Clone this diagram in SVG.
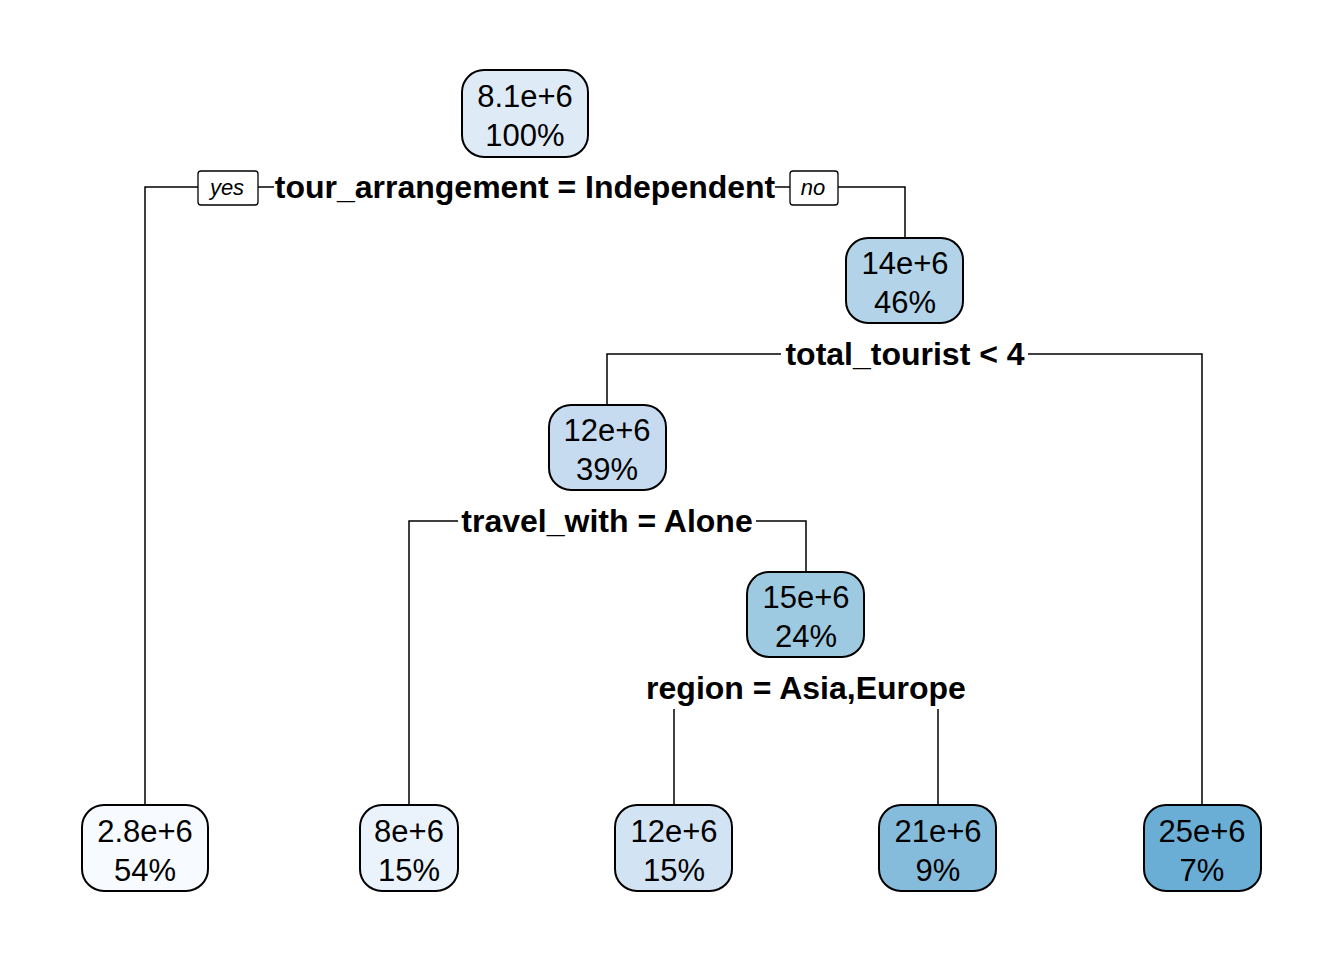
<svg xmlns="http://www.w3.org/2000/svg" width="1344" height="960" viewBox="0 0 1344 960">
<style>
.box{stroke:#000;stroke-width:2}
.t{font-family:"Liberation Sans",Arial,sans-serif;font-size:31px;text-anchor:middle;fill:#000}
.s{font-family:"Liberation Sans",Arial,sans-serif;font-size:32px;font-weight:bold;text-anchor:middle;fill:#000}
.yn{font-family:"Liberation Sans",Arial,sans-serif;font-size:22px;font-style:italic;text-anchor:middle;fill:#000}
.lbox{fill:#fff;stroke:#000;stroke-width:1.3}
.c{fill:none;stroke:#000;stroke-width:1.5}
</style>
<rect width="1344" height="960" fill="#fff"/>
<g id="connectors">
<polyline class="c" points="198,187 145,187 145,805"/>
<line class="c" x1="258" y1="187" x2="274" y2="187"/>
<line class="c" x1="775" y1="187" x2="790" y2="187"/>
<polyline class="c" points="838,187 905,187 905,238"/>
<polyline class="c" points="781,354 607,354 607,405"/>
<polyline class="c" points="1028,354 1202,354 1202,805"/>
<polyline class="c" points="458,521 409,521 409,805"/>
<polyline class="c" points="756,521 806,521 806,572"/>
<line class="c" x1="674" y1="709" x2="674" y2="805"/>
<line class="c" x1="938" y1="709" x2="938" y2="805"/>
</g>
<g id="split1">
<text class="s" x="525" y="198">tour_arrangement = Independent</text>
<rect class="lbox" x="198" y="171" width="60" height="34" rx="3"/>
<text class="yn" x="227" y="195">yes</text>
<rect class="lbox" x="790" y="171" width="48" height="34" rx="3"/>
<text class="yn" x="813" y="195">no</text>
</g>
<g id="split2"><text class="s" x="905" y="365">total_tourist &lt; 4</text></g>
<g id="split3"><text class="s" x="607" y="532">travel_with = Alone</text></g>
<g id="split4"><text class="s" x="806" y="699">region = Asia,Europe</text></g>
<g id="n1">
<rect class="box" x="462" y="70" width="126" height="87" rx="22" fill="#DEEBF7"/>
<text class="t" x="525" y="107">8.1e+6</text><text class="t" x="525" y="146">100%</text>
</g>
<g id="n3">
<rect class="box" x="846" y="238" width="117" height="85" rx="22" fill="#B2D3E8"/>
<text class="t" x="905" y="274">14e+6</text><text class="t" x="905" y="313">46%</text>
</g>
<g id="n6">
<rect class="box" x="549" y="405" width="117" height="85" rx="22" fill="#C6DBEF"/>
<text class="t" x="607" y="441">12e+6</text><text class="t" x="607" y="480">39%</text>
</g>
<g id="n13">
<rect class="box" x="747" y="572" width="117" height="85" rx="22" fill="#9ECAE1"/>
<text class="t" x="806" y="608">15e+6</text><text class="t" x="806" y="647">24%</text>
</g>
<g id="n2">
<rect class="box" x="82" y="805" width="126" height="86" rx="22" fill="#F7FBFF"/>
<text class="t" x="145" y="842">2.8e+6</text><text class="t" x="145" y="881">54%</text>
</g>
<g id="n12">
<rect class="box" x="360" y="805" width="98" height="86" rx="22" fill="#EAF3FB"/>
<text class="t" x="409" y="842">8e+6</text><text class="t" x="409" y="881">15%</text>
</g>
<g id="n26">
<rect class="box" x="615" y="805" width="117" height="86" rx="22" fill="#D2E3F3"/>
<text class="t" x="674" y="842">12e+6</text><text class="t" x="674" y="881">15%</text>
</g>
<g id="n27">
<rect class="box" x="879" y="805" width="117" height="86" rx="22" fill="#85BCDC"/>
<text class="t" x="938" y="842">21e+6</text><text class="t" x="938" y="881">9%</text>
</g>
<g id="n7">
<rect class="box" x="1144" y="805" width="117" height="86" rx="22" fill="#6AAED6"/>
<text class="t" x="1202" y="842">25e+6</text><text class="t" x="1202" y="881">7%</text>
</g>
</svg>
